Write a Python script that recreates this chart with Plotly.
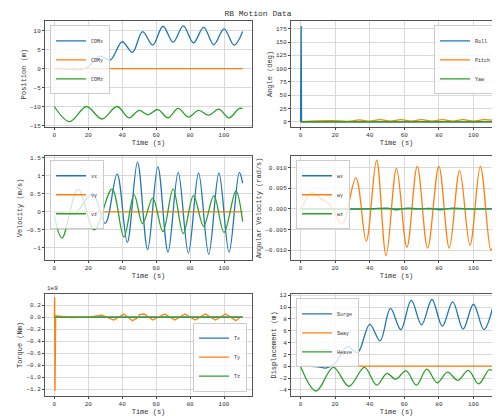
import plotly.graph_objects as go
from plotly.subplots import make_subplots

# values (extrema / turning points)
t_pos = [0, 10, 15, 20, 27, 33, 40, 46, 52, 58, 64, 70, 76, 82, 88, 94, 100, 106, 111]
comx = [0, -0.1, -0.3, 0.5, 3.3, 2.3, 7.1, 4.3, 9.8, 6.2, 11.2, 7.0, 11.3, 6.8, 10.9, 6.3, 10.5, 6.2, 9.8]
t_z = [0, 9, 19, 28, 37, 44, 50, 55, 61, 67, 73, 79, 85, 91, 97, 103, 109, 111]
comz = [-10, -14, -10, -13.3, -10, -13, -11, -12.2, -10.8, -13, -10.5, -12.8, -11, -12.3, -10.7, -13, -10.5, -10.6]
heave = [0, -4.2, -0.2, -3.4, -0.2, -3.2, -1.2, -2.2, -0.8, -3.2, -0.5, -2.8, -1.0, -2.4, -0.7, -3.0, -0.6, -0.7]
t_line = [0, 111]
zeros = [0, 0]

t_roll = [0, 0.4, 0.6, 111]
roll = [0, 180, 0, 0]
t_pitch = [0, 10, 18, 28, 34, 40, 46, 52, 58, 64, 70, 76, 82, 88, 94, 100, 106, 111]
pitch = [0, 1.5, 2.0, 1.0, 3.5, 1.0, 4.0, 1.0, 4.0, 1.0, 4.0, 1.0, 4.0, 1.0, 4.0, 1.0, 4.0, 3.0]

t_vx = [0, 5, 12, 22.5, 30, 37, 43, 49, 55, 61, 67, 73, 79, 85, 91, 97, 103, 109, 111]
vx = [0, -0.02, -0.05, 0.5, -0.32, 1.05, -0.85, 1.38, -1.05, 1.25, -1.12, 1.1, -1.15, 1.08, -1.18, 1.08, -1.12, 1.1, 0.8]
t_vz = [0, 4.5, 14, 23.5, 34, 41, 47, 52, 58, 64, 70, 76, 82, 88, 94, 100, 107, 111]
vz = [-0.1, -0.73, 0.63, -0.5, 0.63, -0.7, 0.48, -0.33, 0.38, -0.55, 0.63, -0.6, 0.45, -0.4, 0.45, -0.57, 0.58, -0.27]

t_wy = [0, 6.5, 12, 17, 24, 32, 38, 44, 49.5, 55.5, 61.5, 67.5, 73.5, 80, 86, 92, 98, 104, 110, 111]
wy = [-0.0005, 0.004, 0.0025, 0.001, -0.0037, 0.0075, -0.0078, 0.0118, -0.0113, 0.0098, -0.0093, 0.0103,
      -0.0095, 0.0103, -0.0095, 0.0093, -0.0088, 0.0103, -0.0100, -0.0095]
t_wx = [0, 40, 50, 55, 62, 68, 75, 81, 88, 95, 111]
wx = [0, 0, 0.0002, -0.0002, 0.0002, 0, 0.0001, -0.0002, 0.0002, 0, 0]

t_ty = [0, 0.2, 0.4, 0.8, 10, 20, 28, 35, 41, 46, 49.8, 50.2, 53, 58, 65, 71, 77, 83, 89, 95, 101, 107, 110]
ty = [0, 0.33, -1.23, 0.02, -0.01, 0, 0.03, -0.05, 0.05, -0.06, 0.0, 0.04, 0.05, -0.05, 0.05, -0.05,
      0.05, -0.05, 0.05, -0.05, 0.05, -0.06, 0.01]

blue, orange, green = '#1f77b4', '#ff7f0e', '#2ca02c'
FONT = 'Liberation Mono'

fig = make_subplots(rows=3, cols=2)
dom_x = [[0.074, 0.488], [0.566, 0.988]]
dom_y = [[0.715, 0.968], [0.395, 0.644], [0.068, 0.312]]


def add(row, col, x, y, name, color, leg, shape='spline'):
    fig.add_trace(go.Scatter(x=x, y=y, name=name, mode='lines',
                             line=dict(color=color, width=1.3, shape=shape, smoothing=1.0),
                             legend=leg), row=row, col=col)


add(1, 1, t_pos, comx, 'COMx', blue, 'legend')
add(1, 1, t_line, zeros, 'COMy', orange, 'legend')
add(1, 1, t_z, comz, 'COMz', green, 'legend')

add(1, 2, t_roll, roll, 'Roll', blue, 'legend2', 'linear')
add(1, 2, t_pitch, pitch, 'Pitch', orange, 'legend2')
add(1, 2, t_line, zeros, 'Yaw', green, 'legend2')

add(2, 1, t_vx, vx, 'vx', blue, 'legend3')
add(2, 1, t_line, zeros, 'vy', orange, 'legend3')
add(2, 1, t_vz, vz, 'vz', green, 'legend3')

add(2, 2, t_wx, wx, 'wx', blue, 'legend4')
add(2, 2, t_wy, wy, 'wy', orange, 'legend4')
add(2, 2, t_line, zeros, 'wz', green, 'legend4')

add(3, 1, t_line, zeros, 'Tx', blue, 'legend5')
add(3, 1, t_ty, ty, 'Ty', orange, 'legend5', 'linear')
add(3, 1, t_line, zeros, 'Tz', green, 'legend5')

add(3, 2, t_pos, comx, 'Surge', blue, 'legend6')
add(3, 2, t_line, zeros, 'Sway', orange, 'legend6')
add(3, 2, t_z, heave, 'Heave', green, 'legend6')

ylabels = [['Position (m)', 'Angle (deg)'], ['Velocity (m/s)', 'Angular Velocity (rad/s)'],
           ['Torque (Nm)', 'Displacement (m)']]
yranges = [[[-15.3, 12.5], [-9, 189]], [[-1.33, 1.55], [-0.0123, 0.0128]], [[-1.31, 0.38], [-5.0, 12.2]]]
ydticks = [[5, 25], [0.5, 0.005], [0.2, 2]]
for r in range(3):
    for c in range(2):
        fig.update_xaxes(row=r + 1, col=c + 1, domain=dom_x[c], range=[-5.5, 116.5], dtick=20,
                         title=dict(text='Time (s)', standoff=1, font=dict(size=7)))
        fig.update_yaxes(row=r + 1, col=c + 1, domain=dom_y[r], range=yranges[r][c], dtick=ydticks[r][c],
                         title=dict(text=ylabels[r][c], standoff=2, font=dict(size=7)))
fig.update_xaxes(showgrid=True, gridcolor='#d9d9d9', zeroline=False, showline=True, mirror=True,
                 linecolor='#555', ticks='outside', ticklen=2, tickfont=dict(size=6), automargin=False)
fig.update_yaxes(showgrid=True, gridcolor='#d9d9d9', zeroline=False, showline=True, mirror=True,
                 linecolor='#555', ticks='outside', ticklen=2, tickfont=dict(size=6), automargin=False)
fig.update_yaxes(row=3, col=1, tickformat='.1f')
fig.update_yaxes(row=2, col=2, tickformat='.3f')

leg_style = dict(font=dict(size=5), bgcolor='rgba(255,255,255,0.8)', bordercolor='#ccc', borderwidth=1,
                 itemwidth=30, tracegroupgap=0)
fig.update_layout(
    width=500, height=416, margin=dict(l=0, r=0, t=0, b=0),
    paper_bgcolor='white', plot_bgcolor='white', showlegend=True,
    font=dict(family=FONT, color='#333'),
    title=dict(text='RB Motion Data', x=0.5, y=0.995, yanchor='top', font=dict(size=8)),
    legend=dict(x=dom_x[0][0] + 0.01, y=dom_y[0][1] - 0.01, xanchor='left', yanchor='top', **leg_style),
    legend2=dict(x=dom_x[1][1] - 0.01, y=dom_y[0][1] - 0.01, xanchor='right', yanchor='top', **leg_style),
    legend3=dict(x=dom_x[0][0] + 0.01, y=dom_y[1][1] - 0.01, xanchor='left', yanchor='top', **leg_style),
    legend4=dict(x=dom_x[1][0] + 0.01, y=dom_y[1][1] - 0.01, xanchor='left', yanchor='top', **leg_style),
    legend5=dict(x=dom_x[0][1] - 0.01, y=dom_y[2][0] + 0.01, xanchor='right', yanchor='bottom', **leg_style),
    legend6=dict(x=dom_x[1][0] + 0.01, y=dom_y[2][1] - 0.01, xanchor='left', yanchor='top', **leg_style),
)
fig.add_annotation(text='1e9', xref='paper', yref='paper', x=dom_x[0][0], y=dom_y[2][1],
                   xanchor='left', yanchor='bottom', showarrow=False, font=dict(size=6))

fig.write_html("out.html")
